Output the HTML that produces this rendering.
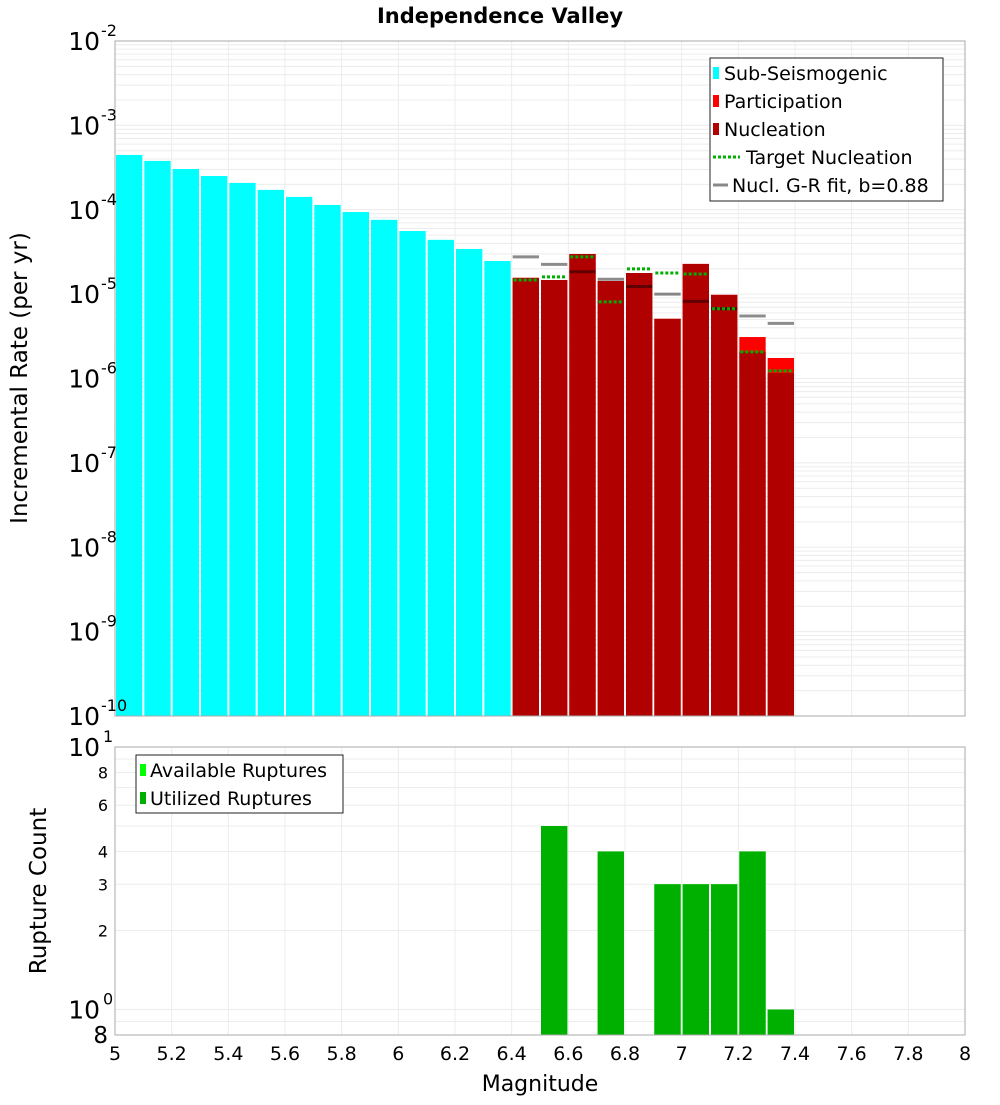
<!DOCTYPE html>
<html><head><meta charset="utf-8"><style>
body{margin:0;background:#fff;font-family:"Liberation Sans","DejaVu Sans",sans-serif}
svg text{font-family:"DejaVu Sans","Liberation Sans",sans-serif}
</style></head><body>
<svg id="chart" width="1000" height="1100" xmlns="http://www.w3.org/2000/svg">
<text x="500" y="23" text-anchor="middle" font-size="21" font-weight="bold">Independence Valley</text>
<g id="topg"></g><g id="botg"></g>
<text transform="translate(27,378) rotate(-90)" text-anchor="middle" font-size="23">Incremental Rate (per yr)</text>
<text transform="translate(46,891) rotate(-90)" text-anchor="middle" font-size="23">Rupture Count</text>
<text x="540" y="1091" text-anchor="middle" font-size="22">Magnitude</text>
</svg>
<script>
const subMags=[5.0,5.1,5.2,5.3,5.4,5.5,5.6,5.7,5.8,5.9,6.0,6.1,6.2,6.3];
const subRates=[4.46e-4,3.79e-4,3.04e-4,2.51e-4,2.08e-4,1.72e-4,1.42e-4,1.14e-4,9.4e-5,7.6e-5,5.6e-5,4.4e-5,3.43e-5,2.47e-5];
const faultMags=[6.4,6.5,6.6,6.7,6.8,6.9,7.0,7.1,7.2,7.3];
const partRates=[1.56e-5,1.47e-5,2.99e-5,1.43e-5,1.78e-5,5.1e-6,2.28e-5,9.8e-6,3.1e-6,1.75e-6];
const nuclRates=[1.56e-5,1.47e-5,2.99e-5,1.43e-5,1.78e-5,5.1e-6,2.28e-5,9.8e-6,2.07e-6,1.16e-6];
const targetRates=[1.47e-5,1.60e-5,2.76e-5,8.1e-6,1.99e-5,1.78e-5,1.73e-5,6.7e-6,2.07e-6,1.23e-6];
const grRates=[2.76e-5,2.25e-5,1.84e-5,1.50e-5,1.23e-5,1.00e-5,8.2e-6,6.7e-6,5.5e-6,4.5e-6];
const countMags=[6.5,6.7,6.9,7.0,7.1,7.2,7.3];
const availCounts=[5,4,3,3,3,4,1];
const usedCounts=[5,4,3,3,3,4,1];
const xTicks=[5,5.2,5.4,5.6,5.8,6,6.2,6.4,6.6,6.8,7,7.2,7.4,7.6,7.8,8];
const xTickLabels=["5","5.2","5.4","5.6","5.8","6","6.2","6.4","6.6","6.8","7","7.2","7.4","7.6","7.8","8"];
const topExps=[-2,-3,-4,-5,-6,-7,-8,-9,-10];
const botMinorTicks=[8,6,4,3,2];

const NS="http://www.w3.org/2000/svg";
const L=115,R=965,T1=41,B1=716,T2=747,B2=1035;
const xs=m=>L+(m-5)/3*(R-L);
const ys=v=>T1+(-2-Math.log10(v))*(B1-T1)/8;
const yc=v=>1009.5-Math.log10(v)*262.5;
function mk(p,tag,a){const e=document.createElementNS(NS,tag);for(const k in a)e.setAttribute(k,a[k]);p.appendChild(e);return e;}
const topG=document.getElementById('topg'),botG=document.getElementById('botg');
const BW=(R-L)/30;

for(let d=-10;d<-2;d++)for(let k=1;k<10;k++){const y=ys(k*Math.pow(10,d));if(y<T1)continue;
 const g=mk(topG,'line',{x1:L,x2:R,y1:y,y2:y,stroke:'#ececec','stroke-width':1});
 
 }
xTicks.forEach(m=>{const g=mk(topG,'line',{x1:xs(m),x2:xs(m),y1:T1,y2:B1,stroke:'#ececec'});
 
 });
subMags.forEach((m,i)=>{const r=mk(topG,'rect',{x:xs(m)+1,y:ys(subRates[i]),width:BW-2,height:B1-ys(subRates[i]),fill:'#00ffff'});
 
 });
faultMags.forEach((m,i)=>{const r=mk(topG,'rect',{x:xs(m)+1,y:ys(partRates[i]),width:BW-2,height:B1-ys(partRates[i]),fill:'#ff0000'});
 
 
 const n=mk(topG,'rect',{x:xs(m)+1,y:ys(nuclRates[i]),width:BW-2,height:B1-ys(nuclRates[i]),fill:'#b00000'});
 
 });
faultMags.forEach((m,i)=>{const g=mk(topG,'line',{x1:xs(m)+1,x2:xs(m)+BW-1,y1:ys(grRates[i]),y2:ys(grRates[i]),stroke:'#000','stroke-opacity':0.45,'stroke-width':3});
 
 
 const t=mk(topG,'line',{x1:xs(m)+2,x2:xs(m)+BW-2,y1:ys(targetRates[i]),y2:ys(targetRates[i]),stroke:'#00b000','stroke-width':3,'stroke-dasharray':'3,2'});
 
 });
let f=mk(topG,'rect',{x:L,y:T1,width:R-L,height:B1-T1,fill:'none',stroke:'#aaa'});


topExps.forEach(e=>{const t=mk(topG,'text',{x:100,y:ys(Math.pow(10,e))+9,'text-anchor':'end','font-size':25});t.textContent='10';
 
 
 const s=mk(topG,'text',{x:101,y:ys(Math.pow(10,e))-5,'font-size':16});s.textContent=String(e);
 
 });
const lg=mk(topG,'g',{});


mk(lg,'rect',{x:710,y:58,width:233,height:143,fill:'#fff',stroke:'#222'});
[['Sub-Seismogenic','#00ffff','bar'],['Participation','#ff0000','bar'],['Nucleation','#b00000','bar'],['Target Nucleation','#00b000','dot'],['Nucl. G-R fit, b=0.88','#888','line']].forEach((it,i)=>{
 const y=73+i*28;
 if(it[2]=='bar')mk(lg,'rect',{x:713,y:y-6,width:6,height:12,fill:it[1]});
 else if(it[2]=='dot')mk(lg,'line',{x1:713,x2:740,y1:y,y2:y,stroke:it[1],'stroke-width':3,'stroke-dasharray':'3,2'});
 else mk(lg,'line',{x1:713,x2:728,y1:y,y2:y,stroke:it[1],'stroke-width':3});
 const t=mk(lg,'text',{x:it[2]=='bar'?724:(it[2]=='dot'?746:732),y:y+7,'font-size':19});t.textContent=it[0];
 
 });

for(const v of [0.8,0.9,1,2,3,4,5,6,7,8,9,10]){const y=yc(v);
 const g=mk(botG,'line',{x1:L,x2:R,y1:y,y2:y,stroke:'#ececec'});
 
 }
xTicks.forEach(m=>{const g=mk(botG,'line',{x1:xs(m),x2:xs(m),y1:T2,y2:B2,stroke:'#ececec'});
 
 });
countMags.forEach((m,i)=>{const a=mk(botG,'rect',{x:xs(m)+1,y:yc(availCounts[i]),width:BW-2,height:B2-yc(availCounts[i]),fill:'#00ff00'});
 
 
 const u=mk(botG,'rect',{x:xs(m)+1,y:yc(usedCounts[i]),width:BW-2,height:B2-yc(usedCounts[i]),fill:'#00b000'});
 
 });
f=mk(botG,'rect',{x:L,y:T2,width:R-L,height:B2-T2,fill:'none',stroke:'#aaa'});


botMinorTicks.forEach(v=>{const t=mk(botG,'text',{x:108,y:yc(v)+6,'text-anchor':'end','font-size':16});t.textContent=String(v);
 
 });
[[10,'1'],[1,'0']].forEach(p=>{const t=mk(botG,'text',{x:100,y:yc(p[0])+9,'text-anchor':'end','font-size':25});t.textContent='10';
 
 
 const s=mk(botG,'text',{x:103,y:yc(p[0])-5,'font-size':16});s.textContent=p[1];
 
 });
let e8=mk(botG,'text',{x:108,y:B2+8,'text-anchor':'end','font-size':23});e8.textContent='8';


xTicks.forEach((m,i)=>{const t=mk(botG,'text',{x:xs(m),y:1060,'text-anchor':'middle','font-size':19});t.textContent=xTickLabels[i];
 
 });
const lg2=mk(botG,'g',{});


mk(lg2,'rect',{x:136,y:755,width:207,height:58,fill:'#fff',stroke:'#222'});
[['Available Ruptures','#00ff00'],['Utilized Ruptures','#00b000']].forEach((it,i)=>{const y=770+i*28;
 mk(lg2,'rect',{x:140,y:y-6,width:6,height:12,fill:it[1]});
 const t=mk(lg2,'text',{x:150,y:y+7,'font-size':19});t.textContent=it[0];
 
 });
</script>
</body></html>
